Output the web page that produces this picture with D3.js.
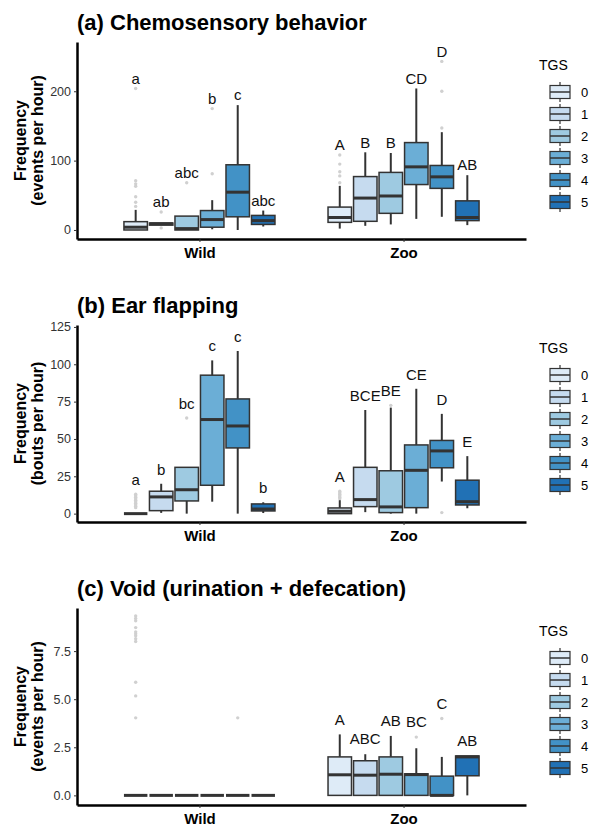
<!DOCTYPE html>
<html>
<head>
<meta charset="utf-8">
<script src="https://cdn.jsdelivr.net/npm/d3@7"></script>
<style>
  body { margin: 0; background: #fff; }
  svg { font-family: "Liberation Sans", Arial, Helvetica, sans-serif; }
</style>
</head>
<body>
<div id="chart"></div>
<script>
// Categories
var groups = ["Wild", "Zoo"];
var tgsLevels = ["0", "1", "2", "3", "4", "5"];

// Tick labels for each panel
var chemoTicks = [0, 100, 200];
var earTicks = [0, 25, 50, 75, 100, 125];
var voidTicks = [0, 2.5, 5, 7.5];

// Box summaries (lo/hi = whisker ends, out = outliers)
var chemoBoxes = [
    { group: "Wild", tgs: "0", lo: 0, q1: 0, med: 4, q3: 12, hi: 29, out: [34, 40, 48, 63, 66.5, 71, 204], label: "a" },
    { group: "Wild", tgs: "1", lo: 7, q1: 7, med: 9, q3: 10, hi: 10, out: [3, 26], label: "ab" },
    { group: "Wild", tgs: "2", lo: 0, q1: 0, med: 2, q3: 20, hi: 20, out: [68], label: "abc" },
    { group: "Wild", tgs: "3", lo: 1, q1: 4, med: 15, q3: 28, hi: 43, out: [81, 175], label: "b" },
    { group: "Wild", tgs: "4", lo: 0, q1: 19, med: 54.5, q3: 94, hi: 180, out: [], label: "c" },
    { group: "Wild", tgs: "5", lo: 5, q1: 8, med: 13.5, q3: 21, hi: 28, out: [], label: "abc" },
    { group: "Zoo", tgs: "0", lo: 2, q1: 11, med: 18, q3: 33, hi: 63.6, out: [68, 78, 84, 95, 108], label: "A" },
    { group: "Zoo", tgs: "1", lo: 6, q1: 12.5, med: 46, q3: 77, hi: 112, out: [], label: "B" },
    { group: "Zoo", tgs: "2", lo: 8, q1: 24, med: 49, q3: 83, hi: 111, out: [], label: "B" },
    { group: "Zoo", tgs: "3", lo: 16, q1: 65.5, med: 91, q3: 126, hi: 204, out: [], label: "CD" },
    { group: "Zoo", tgs: "4", lo: 19, q1: 60, med: 76.6, q3: 93, hi: 141, out: [147, 200, 243], label: "D" },
    { group: "Zoo", tgs: "5", lo: 7, q1: 13.5, med: 18, q3: 42, hi: 79, out: [], label: "AB" }
];

var earBoxes = [
    { group: "Wild", tgs: "0", lo: 0, q1: 0, med: 0, q3: 0, hi: 0, out: [4, 5, 6, 7, 8, 9, 10, 11, 12, 13], label: "a" },
    { group: "Wild", tgs: "1", lo: 0.5, q1: 2, med: 11.2, q3: 15, hi: 20, out: [], label: "b" },
    { group: "Wild", tgs: "2", lo: 0, q1: 8.5, med: 16, q3: 31, hi: 31, out: [64], label: "bc" },
    { group: "Wild", tgs: "3", lo: 8, q1: 19, med: 63, q3: 92.7, hi: 102.6, out: [], label: "c" },
    { group: "Wild", tgs: "4", lo: 0, q1: 44, med: 58.7, q3: 76.8, hi: 108.9, out: [], label: "c" },
    { group: "Wild", tgs: "5", lo: 0.4, q1: 1.8, med: 3.1, q3: 6.5, hi: 7.6, out: [], label: "b" },
    { group: "Zoo", tgs: "0", lo: 0, q1: 0, med: 1.6, q3: 3.8, hi: 9, out: [10, 11, 12, 13, 14, 15], label: "A" },
    { group: "Zoo", tgs: "1", lo: 1, q1: 4.7, med: 9.4, q3: 31, hi: 69.4, out: [], label: "BCE" },
    { group: "Zoo", tgs: "2", lo: 0, q1: 0.7, med: 4.5, q3: 28.7, hi: 71, out: [72.5], label: "BE" },
    { group: "Zoo", tgs: "3", lo: 0, q1: 4, med: 29, q3: 46, hi: 83.6, out: [], label: "CE" },
    { group: "Zoo", tgs: "4", lo: 21.5, q1: 30.7, med: 42, q3: 49, hi: 66.8, out: [0.7], label: "D" },
    { group: "Zoo", tgs: "5", lo: 3.6, q1: 5.8, med: 8, q3: 22.4, hi: 38.5, out: [], label: "E" }
];

var voidBoxes = [
    { group: "Wild", tgs: "0", lo: 0, q1: 0, med: 0, q3: 0, hi: 0, out: [4.03, 5.17, 5.88, 8.0, 8.14, 8.3, 8.4, 8.5, 8.72, 9.08, 9.2, 9.33], label: "" },
    { group: "Wild", tgs: "1", lo: 0, q1: 0, med: 0, q3: 0, hi: 0, out: [], label: "" },
    { group: "Wild", tgs: "2", lo: 0, q1: 0, med: 0, q3: 0, hi: 0, out: [], label: "" },
    { group: "Wild", tgs: "3", lo: 0, q1: 0, med: 0, q3: 0, hi: 0, out: [], label: "" },
    { group: "Wild", tgs: "4", lo: 0, q1: 0, med: 0, q3: 0, hi: 0, out: [4.03], label: "" },
    { group: "Wild", tgs: "5", lo: 0, q1: 0, med: 0, q3: 0, hi: 0, out: [], label: "" },
    { group: "Zoo", tgs: "0", lo: 0, q1: 0, med: 1.07, q3: 2.0, hi: 3.17, out: [], label: "A" },
    { group: "Zoo", tgs: "1", lo: 0, q1: 0, med: 1.05, q3: 1.8, hi: 2.14, out: [], label: "ABC" },
    { group: "Zoo", tgs: "2", lo: 0, q1: 0, med: 1.1, q3: 2.0, hi: 3.09, out: [], label: "AB" },
    { group: "Zoo", tgs: "3", lo: 0, q1: 0, med: 1.08, q3: 1.12, hi: 2.45, out: [3.03], label: "BC" },
    { group: "Zoo", tgs: "4", lo: 0, q1: 0, med: 0, q3: 1.0, hi: 2.0, out: [4.0], label: "C" },
    { group: "Zoo", tgs: "5", lo: 0, q1: 1.02, med: 2.0, q3: 2.05, hi: 2.05, out: [], label: "AB" }
];

// Colours (Brewer Blues)
var tgsColors = ["#deebf7", "#c6dbef", "#9ecae1", "#6baed6", "#4292c6", "#2171b5"];

// Layout
var width = 589, height = 827;
var plotLeft = 77, plotRight = 526, plotH = 197;
var ink = "#333333";

var panels = [
    { title: "(a) Chemosensory behavior", ytitle: ["Frequency", "(events per hour)"], boxes: chemoBoxes,
      ticks: chemoTicks, domain: [-13, 271], top: 42, labelOff: 10, fmt: d3.format("d") },
    { title: "(b) Ear flapping", ytitle: ["Frequency", "(bouts per hour)"], boxes: earBoxes,
      ticks: earTicks, domain: [-5.6, 126.3], top: 325, labelOff: 14.5, fmt: d3.format("d") },
    { title: "(c) Void (urination + defecation)", ytitle: ["Frequency", "(events per hour)"], boxes: voidBoxes,
      ticks: voidTicks, domain: [-0.5, 9.74], top: 608, labelOff: 15, fmt: d3.format(".1f") }
];

var svg = d3.select("#chart").append("svg")
    .attr("width", width)
    .attr("height", height);

svg.append("rect").attr("width", width).attr("height", height).attr("fill", "#fff");

// Shared x scales: group positions and the dodge inside each group
var xOuter = d3.scalePoint()
    .domain(groups)
    .range([plotLeft, plotRight])
    .padding(0.6);
var step = xOuter.step();
var xInner = d3.scaleBand()
    .domain(tgsLevels)
    .range([-0.375 * step, 0.375 * step]);
var color = d3.scaleOrdinal().domain(tgsLevels).range(tgsColors);

var drawPanel = function(p) {

    var g = svg.append("g");
    var bottom = p.top + plotH;

    var y = d3.scaleLinear()
        .domain(p.domain)
        .range([bottom, p.top]);

    // Title
    g.append("text")
        .attr("x", plotLeft)
        .attr("y", p.top - 12)
        .style("font-size", "22px")
        .style("font-weight", "bold")
        .attr("fill", "#000")
        .text(p.title);

    // Y axis title (two lines)
    var yt = g.append("text")
        .attr("transform", "translate(26," + ((p.top + bottom) / 2) + ") rotate(-90)")
        .attr("text-anchor", "middle")
        .style("font-size", "16px")
        .style("font-weight", "bold")
        .attr("fill", "#000");
    yt.append("tspan").attr("x", 0).attr("y", 0).text(p.ytitle[0]);
    yt.append("tspan").attr("x", 0).attr("y", 17).text(p.ytitle[1]);

    // Boxes
    var boxW = xInner.bandwidth() * 0.92;
    var boxG = g.append("g");
    var box = boxG.selectAll("g.box")
        .data(p.boxes)
        .enter().append("g")
        .attr("class", "box")
        .attr("transform", function(d) {
            var cx = xOuter(d.group) + xInner(d.tgs) + xInner.bandwidth() / 2;
            return "translate(" + cx + ",0)";
        });

    // Outliers
    box.selectAll("circle")
        .data(function(d) { return d.out; })
        .enter().append("circle")
        .attr("cx", 0)
        .attr("cy", function(v) { return y(v); })
        .attr("r", 1.7)
        .attr("fill", "#d0d0d0");

    // Whiskers
    box.append("line")
        .attr("x1", 0).attr("x2", 0)
        .attr("y1", function(d) { return y(d.lo); })
        .attr("y2", function(d) { return y(d.q1); })
        .attr("stroke", ink).attr("stroke-width", 2);
    box.append("line")
        .attr("x1", 0).attr("x2", 0)
        .attr("y1", function(d) { return y(d.q3); })
        .attr("y2", function(d) { return y(d.hi); })
        .attr("stroke", ink).attr("stroke-width", 2);

    // Box body
    box.append("rect")
        .attr("x", -boxW / 2)
        .attr("width", boxW)
        .attr("y", function(d) { return y(d.q3); })
        .attr("height", function(d) { return y(d.q1) - y(d.q3); })
        .attr("fill", function(d) { return color(d.tgs); })
        .attr("stroke", ink)
        .attr("stroke-width", 1.5);

    // Median
    box.append("line")
        .attr("x1", -boxW / 2).attr("x2", boxW / 2)
        .attr("y1", function(d) { return y(d.med); })
        .attr("y2", function(d) { return y(d.med); })
        .attr("stroke", ink).attr("stroke-width", 3);

    // Letters above each box
    box.append("text")
        .attr("x", 0)
        .attr("y", function(d) {
            var top = d3.max([d.hi].concat(d.out));
            return y(top) - p.labelOff;
        })
        .attr("dy", "0.35em")
        .attr("text-anchor", "middle")
        .style("font-size", "15px")
        .attr("fill", "#111")
        .text(function(d) { return d.label; });

    // Axes
    var yAxisG = g.append("g")
        .attr("transform", "translate(" + plotLeft + ",0)")
        .call(d3.axisLeft(y)
            .tickValues(p.ticks)
            .tickFormat(p.fmt)
            .tickSize(3)
            .tickSizeOuter(0)
            .tickPadding(3));
    yAxisG.select(".domain").attr("stroke", "#000").attr("stroke-width", 2.5);
    yAxisG.selectAll(".tick line").attr("stroke", ink);
    yAxisG.selectAll(".tick text")
        .style("font-size", "12.5px")
        .style("font-family", "\"Liberation Sans\", Arial, sans-serif")
        .attr("fill", "#333");

    var xAxisG = g.append("g")
        .attr("transform", "translate(0," + bottom + ")")
        .call(d3.axisBottom(xOuter)
            .tickSize(3)
            .tickSizeOuter(0)
            .tickPadding(5));
    xAxisG.select(".domain").attr("stroke", "#000").attr("stroke-width", 2.5);
    xAxisG.selectAll(".tick line").attr("stroke", ink);
    xAxisG.selectAll(".tick text")
        .style("font-size", "15px")
        .style("font-weight", "bold")
        .style("font-family", "\"Liberation Sans\", Arial, sans-serif")
        .attr("fill", "#000");

    // Legend
    var legend = g.append("g").attr("transform", "translate(539," + p.top + ")");
    legend.append("text")
        .attr("x", 0)
        .attr("y", 28)
        .style("font-size", "14px")
        .attr("fill", "#000")
        .text("TGS");
    var key = legend.selectAll("g.key")
        .data(tgsLevels)
        .enter().append("g")
        .attr("class", "key")
        .attr("transform", function(d, i) { return "translate(21," + (50 + 22 * i) + ")"; });
    key.append("line")
        .attr("x1", 0).attr("x2", 0).attr("y1", -10).attr("y2", 10)
        .attr("stroke", ink).attr("stroke-width", 1.2);
    key.append("rect")
        .attr("x", -10).attr("y", -6.5).attr("width", 20).attr("height", 13)
        .attr("fill", function(d) { return color(d); })
        .attr("stroke", ink).attr("stroke-width", 1.2);
    key.append("line")
        .attr("x1", -10).attr("x2", 10).attr("y1", 0).attr("y2", 0)
        .attr("stroke", ink).attr("stroke-width", 1.5);
    key.append("text")
        .attr("x", 21)
        .attr("dy", "0.35em")
        .style("font-size", "13px")
        .attr("fill", "#000")
        .text(function(d) { return d; });
};

panels.forEach(drawPanel);
</script>
</body>
</html>
